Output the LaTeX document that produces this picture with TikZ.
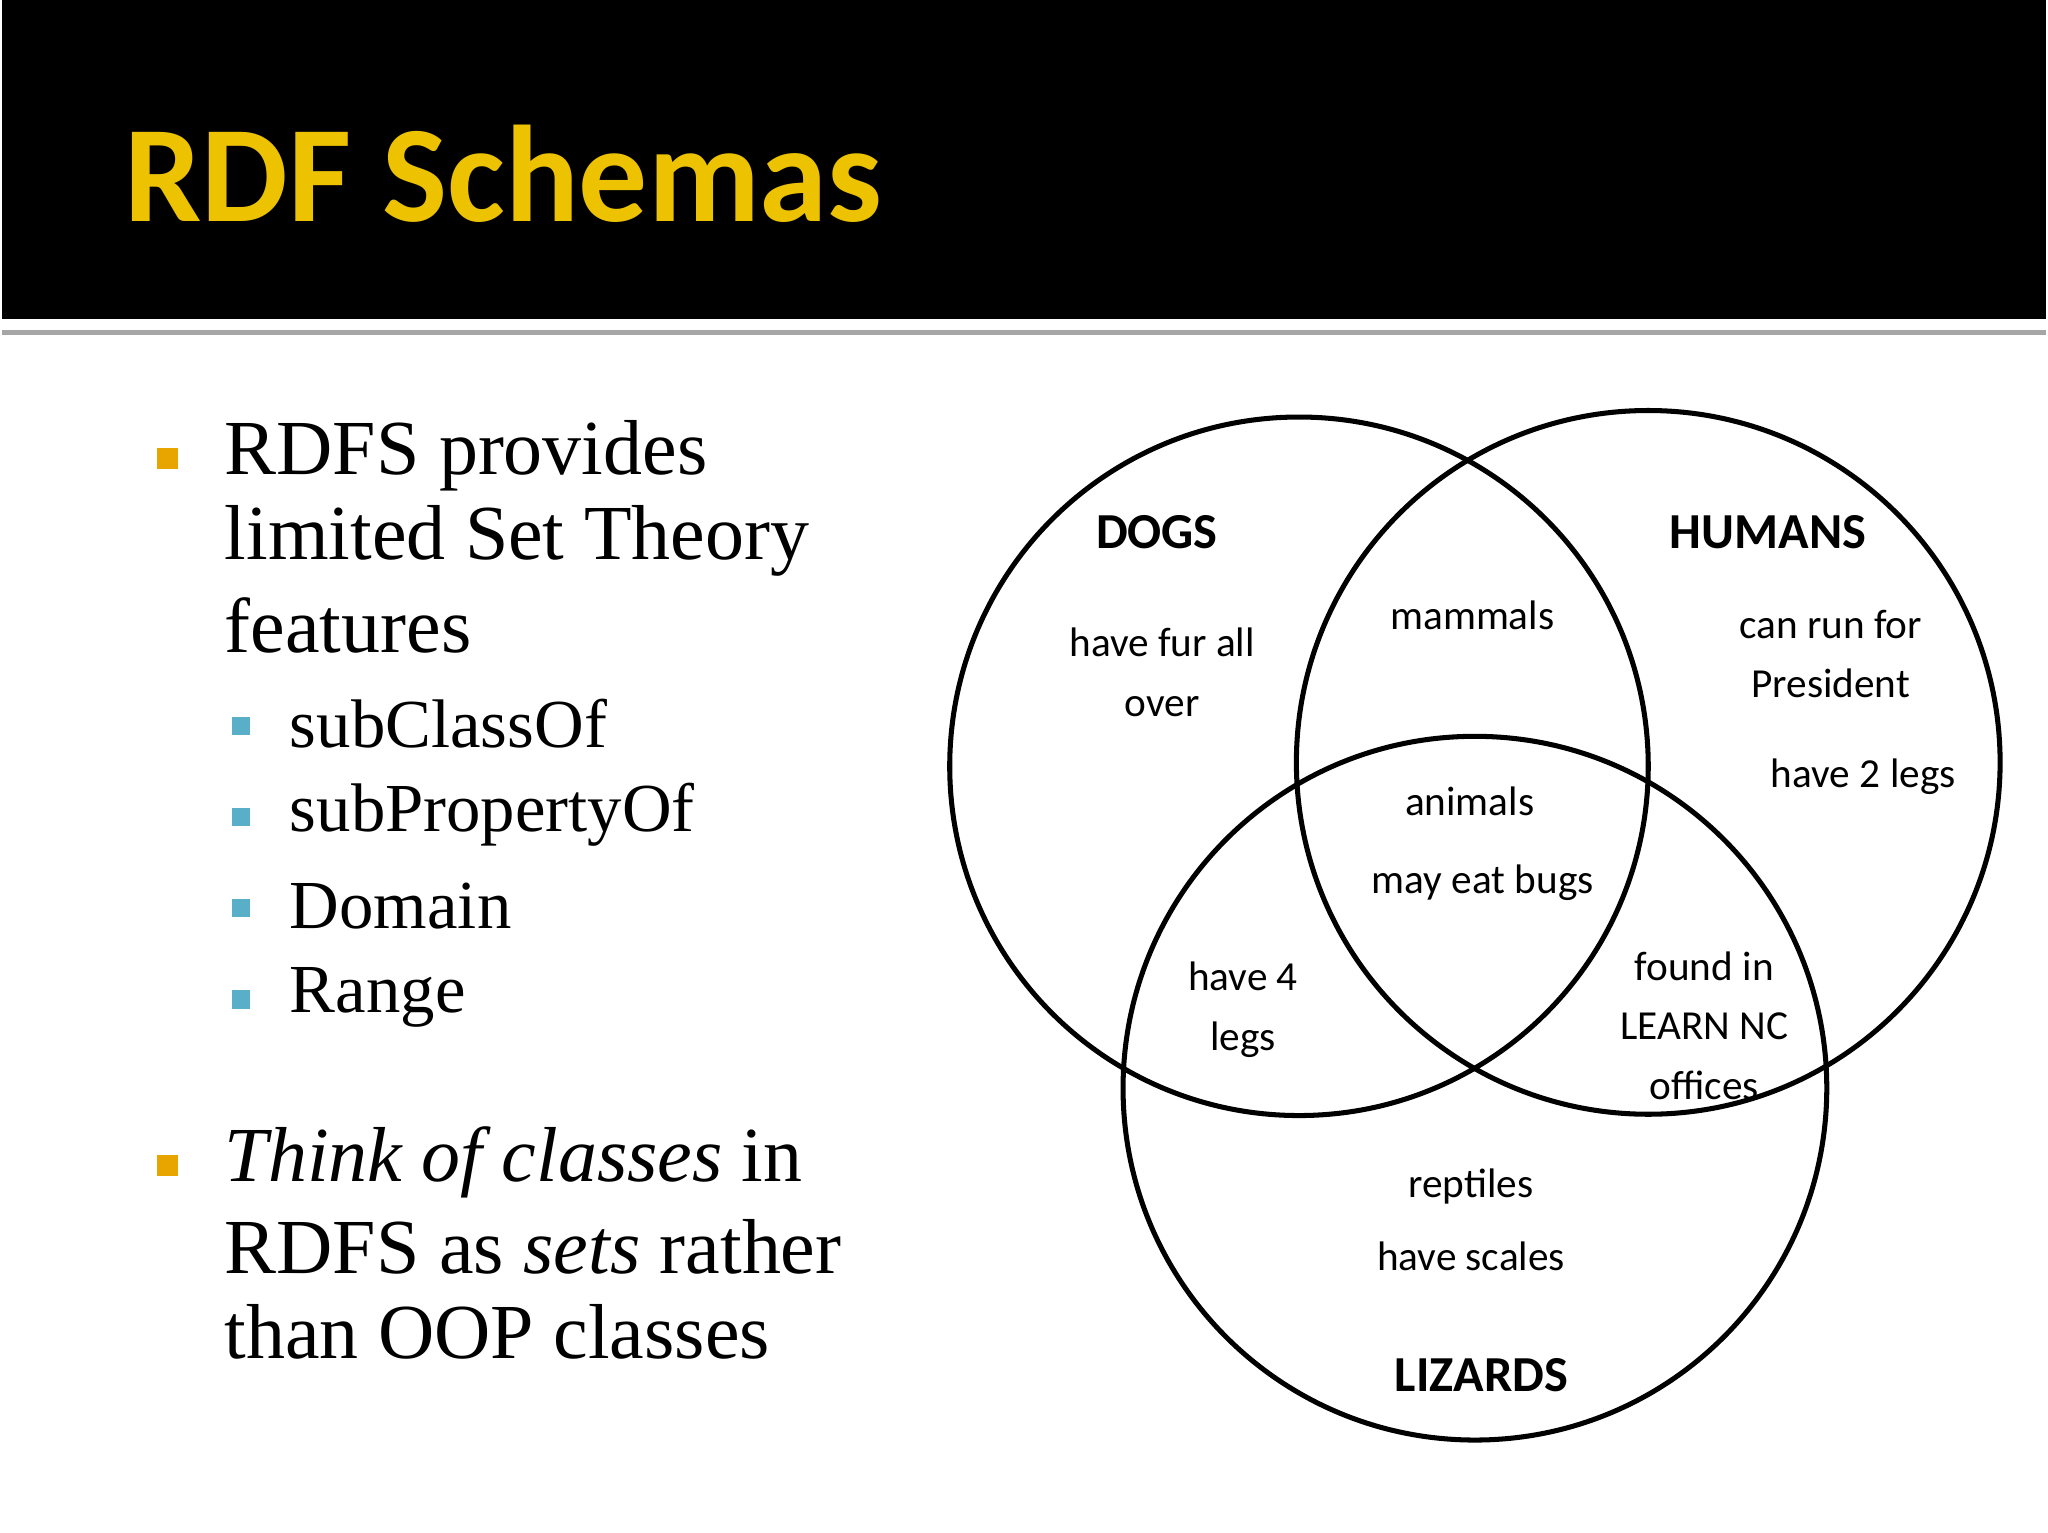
\documentclass[tikz,border=0pt]{standalone}
\usepackage{fontspec}
\setmainfont{Liberation Serif}
\newfontfamily\venn{Carlito}
\newfontfamily\ttl{Carlito}
\definecolor{gold}{HTML}{EDC200}
\definecolor{obul}{HTML}{E8A500}
\definecolor{bbul}{HTML}{5AAFC8}
\begin{document}
\begin{tikzpicture}[x=0.01cm,y=-0.01cm,
  ring/.style={draw=black,line width=1.1pt},
  body/.style={anchor=west,font=\fontsize{17}{20}\selectfont,inner sep=0pt},
  sub/.style={anchor=west,font=\fontsize{15}{18}\selectfont,inner sep=0pt},
  big/.style={font=\venn\bfseries\fontsize{11}{13}\selectfont},
  small/.style={font=\venn\fontsize{9}{13}\selectfont,align=center}]
\fill[white] (0,0) rectangle (1568,1176);
\fill[black] (0,0) rectangle (1568,245);
\draw[gray!70,line width=1pt] (0,255) -- (1568,255);
\node[anchor=west,text=gold,font=\ttl\bfseries\fontsize{30}{34}\selectfont,inner sep=0pt] (title) at (93,133) {RDF Schemas};
% bullets
\fill[obul] (119,344) rectangle (135,360);
\fill[obul] (119,886) rectangle (135,902);
\foreach \y in {557,627,697,767} \fill[bbul] (176,\y-7) rectangle (190,\y+7);
\node[body] (b1) at (170,350) {RDFS provides};
\node[body] (b2) at (170,415) {limited Set Theory};
\node[body] (b3) at (170,480) {features};
\node[sub] (s1) at (220,555) {subClassOf};
\node[sub] (s2) at (220,625) {subPropertyOf};
\node[sub] (s3) at (220,695) {Domain};
\node[sub] (s4) at (220,765) {Range};
\node[body] (c1) at (170,892) {\textit{Think of classes} in};
\node[body] (c2) at (170,957) {RDFS as \textit{sets} rather};
\node[body] (c3) at (170,1022) {than OOP classes};
% venn
\draw[ring] (995,588) circle (268);
\draw[ring] (1263,585) circle (270);
\draw[ring] (1130,835) circle (270);
\node[big] (dogs) at (886,408) {DOGS};
\node[big] (hum) at (1355,408) {HUMANS};
\node[big] (liz) at (1135,1055) {LIZARDS};
\node[small] (d1) at (890,516) {have fur all\\over};
\node[small] (m) at (1128,472) {mammals};
\node[small] (h1) at (1403,502) {can run for\\President};
\node[small] (h2) at (1428,596) {have 2 legs};
\node[small] (a) at (1126,615) {animals};
\node[small] (e) at (1136,677) {may eat bugs};
\node[small] (l4) at (952,775) {have 4\\legs};
\node[small] (f) at (1306,787) {found in\\LEARN NC\\offices};
\node[small] (r) at (1127,936) {reptiles\\[3pt]have scales};
\end{tikzpicture}
\end{document}
